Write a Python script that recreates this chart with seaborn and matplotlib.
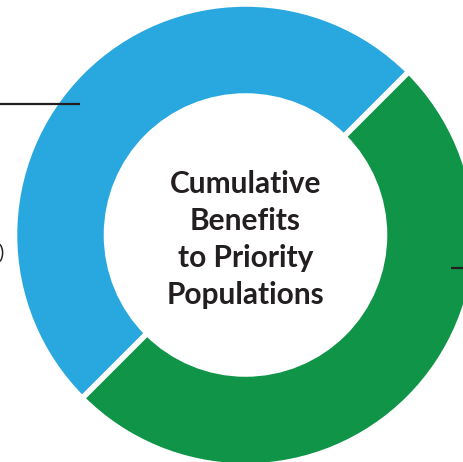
import matplotlib
matplotlib.use("Agg")
import matplotlib.pyplot as plt
import seaborn as sns

categories = ["Priority populations (blue)", "Other (green)"]
values = [50, 50]
colors = ["#29A8E0", "#109447"]
center_label = "Cumulative\nBenefits\nto Priority\nPopulations"

sns.set_theme(style="white")
plt.rcParams['font.family'] = ['Lato', 'DejaVu Sans']

W, H = 463, 462
fig = plt.figure(figsize=(W / 100, H / 100), dpi=100)
ax = fig.add_axes([0, 0, 1, 1])

cx, cy = 245.5, H - 235
R = 231
r_in = 139

ax.pie(values, colors=colors, startangle=45, counterclock=True,
       center=(cx, cy), radius=R,
       wedgeprops=dict(width=R - r_in, edgecolor="white", linewidth=4))

ax.set_xlim(0, W)
ax.set_ylim(0, H)
ax.set_aspect("equal")
ax.axis("off")

ax.text(cx, cy - 4.5, center_label, ha="center", va="center",
        fontsize=21.5, fontweight="bold", color="#231F20", linespacing=1.4)

# leader lines from cropped labels
ax.plot([0, 80], [H - 104, H - 104], color="#231F20", lw=1.6, solid_capstyle="butt")
ax.plot([451, 463], [H - 268, H - 268], color="#231F20", lw=1.6, solid_capstyle="butt")
ax.text(4, H - 252, ")", ha="right", va="center", fontsize=14, color="#231F20")

fig.savefig("out.png", dpi=100)
